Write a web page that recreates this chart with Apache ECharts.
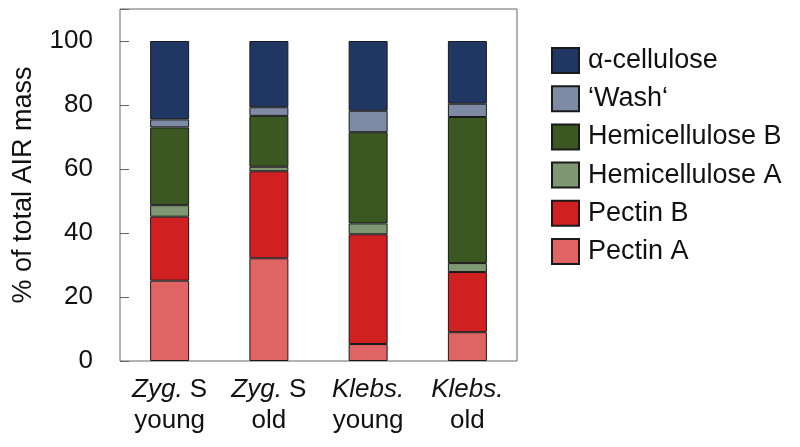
<!DOCTYPE html>
<html><head><meta charset="utf-8">
<script src="https://cdn.jsdelivr.net/npm/echarts@6/dist/echarts.min.js"></script>
<style>html,body{margin:0;padding:0;background:#fff}#c{width:800px;height:447px}</style>
</head><body><div id="c"></div>
<script>
const categories = ['{i|Zyg.} S\nyoung', '{i|Zyg.} S\nold', '{i|Klebs.}\nyoung', '{i|Klebs.}\nold'];
const pectinA = [25.1, 32.1, 5.3, 9.0];
const pectinB = [20.0, 27.2, 34.3, 18.8];
const hemiA = [3.6, 1.4, 3.4, 2.8];
const hemiB = [24.3, 15.9, 28.5, 45.65];
const wash = [2.5, 2.7, 6.7, 4.15];
const alphaCell = [24.5, 20.7, 21.8, 19.6];
const yTicks = [0, 20, 40, 60, 80, 100];

const font = 'Liberation Sans, Arial, sans-serif';
const seriesDefs = [
  ['Pectin A', pectinA, '#e06464'],
  ['Pectin B', pectinB, '#d02022'],
  ['Hemicellulose A', hemiA, '#7f9873'],
  ['Hemicellulose B', hemiB, '#3b5823'],
  ['\u2018Wash\u2018', wash, '#7f8ba5'],
  ['\u03b1-cellulose', alphaCell, '#203763']
];
const chart = echarts.init(document.getElementById('c'), null, {renderer: 'canvas'});
chart.setOption({
  animation: false,
  grid: {left: 120, top: 9, width: 397, height: 352, show: true, borderColor: '#666', borderWidth: 1, backgroundColor: 'transparent'},
  legend: {
    left: 546, top: 42, orient: 'vertical', itemWidth: 27, itemHeight: 25, itemGap: 11.2,
    icon: 'rect',
    data: seriesDefs.map(s => s[0]).reverse(),
    textStyle: {fontFamily: font, fontSize: 27, color: '#111', padding: [0, 0, 0, 4]}
  },
  xAxis: {
    type: 'category', data: categories,
    axisLine: {show: false}, axisTick: {show: false},
    axisLabel: {
      interval: 0, margin: 13, fontFamily: font, fontSize: 26, lineHeight: 31, color: '#111',
      rich: {i: {fontStyle: 'italic', fontFamily: font, fontSize: 26, lineHeight: 31, color: '#111'}}
    }
  },
  yAxis: {
    type: 'value', min: 0, max: 110, interval: 20,
    splitLine: {show: false},
    axisLine: {show: false},
    axisTick: {show: true, inside: true, length: 9, lineStyle: {color: '#666'}},
    axisLabel: {
      margin: 27, fontFamily: font, fontSize: 26, color: '#111',
      formatter: v => yTicks.includes(v) ? String(v) : ''
    }
  },
  graphic: [{
    type: 'text', x: 24, y: 185, rotation: Math.PI / 2,
    style: {text: '% of total AIR mass', fontFamily: font, fontSize: 27, fill: '#111', textAlign: 'center', textVerticalAlign: 'middle'}
  }],
  series: seriesDefs.map(([name, data, color]) => ({
    name, type: 'bar', stack: 'all', data, barWidth: 39,
    itemStyle: {color, borderColor: '#1a1a1a', borderWidth: 1}
  }))
});
</script></body></html>
